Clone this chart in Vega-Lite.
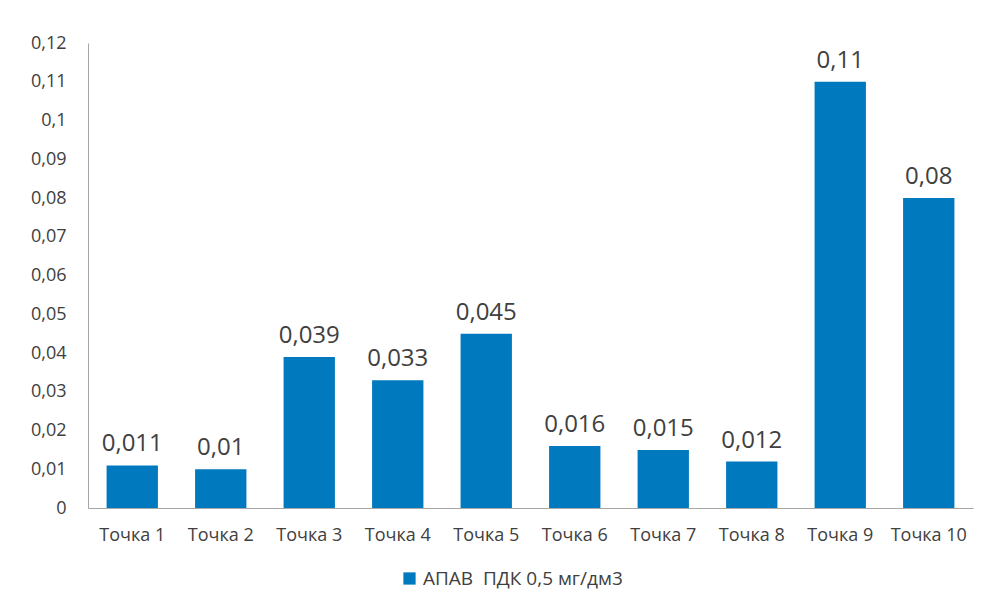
{
  "$schema": "https://vega.github.io/schema/vega-lite/v6.json",
  "autosize": "none",
  "width": 885,
  "height": 465,
  "padding": {"left": 88, "top": 43, "right": 14, "bottom": 86},
  "background": "white",
  "config": {
    "view": {"stroke": null},
    "font": "Open Sans",
    "locale": {"number": {"decimal": ",", "thousands": " ", "grouping": [3], "currency": ["", ""]}}
  },
  "data": {"values": [
    {"point": "Точка 1", "value": 0.011, "series": "АПАВ\u00a0 ПДК 0,5 мг/дм3"},
    {"point": "Точка 2", "value": 0.01, "series": "АПАВ\u00a0 ПДК 0,5 мг/дм3"},
    {"point": "Точка 3", "value": 0.039, "series": "АПАВ\u00a0 ПДК 0,5 мг/дм3"},
    {"point": "Точка 4", "value": 0.033, "series": "АПАВ\u00a0 ПДК 0,5 мг/дм3"},
    {"point": "Точка 5", "value": 0.045, "series": "АПАВ\u00a0 ПДК 0,5 мг/дм3"},
    {"point": "Точка 6", "value": 0.016, "series": "АПАВ\u00a0 ПДК 0,5 мг/дм3"},
    {"point": "Точка 7", "value": 0.015, "series": "АПАВ\u00a0 ПДК 0,5 мг/дм3"},
    {"point": "Точка 8", "value": 0.012, "series": "АПАВ\u00a0 ПДК 0,5 мг/дм3"},
    {"point": "Точка 9", "value": 0.11, "series": "АПАВ\u00a0 ПДК 0,5 мг/дм3"},
    {"point": "Точка 10", "value": 0.08, "series": "АПАВ\u00a0 ПДК 0,5 мг/дм3"}
  ]},
  "encoding": {
    "x": {
      "field": "point", "type": "nominal", "sort": null,
      "scale": {"paddingInner": 0.42, "paddingOuter": 0.21},
      "axis": {"title": null, "labelAngle": 0, "labelFontSize": 18, "labelColor": "#404040", "labelPadding": 18, "ticks": false, "domainColor": "#a6a6a6", "grid": false}
    },
    "y": {
      "field": "value", "type": "quantitative",
      "scale": {"domain": [0, 0.12], "nice": false},
      "axis": {"title": null, "values": [0, 0.01, 0.02, 0.03, 0.04, 0.05, 0.06, 0.07, 0.08, 0.09, 0.1, 0.11, 0.12], "format": "~g", "labelFontSize": 18, "labelColor": "#404040", "labelPadding": 22, "ticks": false, "domainColor": "#a6a6a6", "grid": false}
    }
  },
  "layer": [
    {
      "mark": {"type": "bar", "color": "#0079BE"},
      "encoding": {
        "color": {
          "field": "series", "type": "nominal",
          "scale": {"range": ["#0079BE"]},
          "legend": {"title": null, "orient": "none", "legendX": 312, "legendY": 526, "symbolType": "square", "symbolSize": 150, "labelFontSize": 19, "labelColor": "#404040", "symbolStrokeWidth": 0, "labelLimit": 400, "labelOffset": 4}
        }
      }
    },
    {
      "mark": {"type": "text", "baseline": "bottom", "dy": -9, "fontSize": 24, "color": "#404040"},
      "encoding": {"text": {"field": "value", "type": "quantitative", "format": "~g"}}
    }
  ]
}
